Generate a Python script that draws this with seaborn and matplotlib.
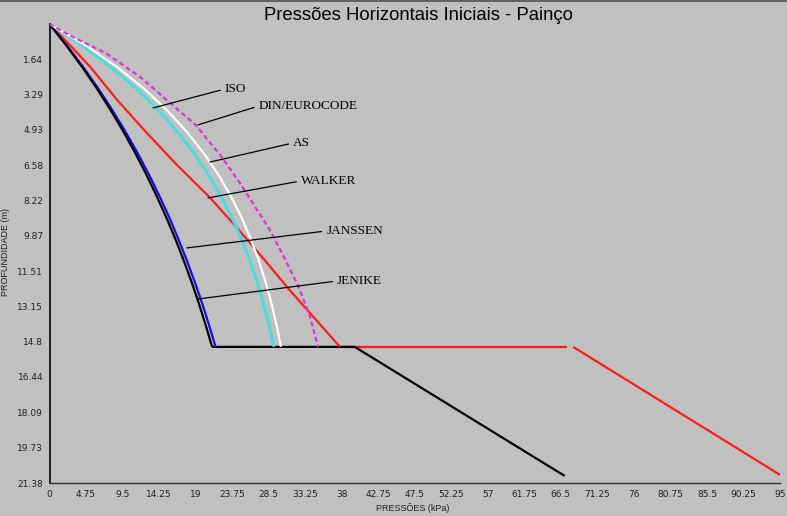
import numpy as np
import pandas as pd
import matplotlib
matplotlib.use("Agg")
import matplotlib.pyplot as plt
from matplotlib.lines import Line2D
import seaborn as sns

# ---------------- data ----------------
title = "Pressões Horizontais Iniciais - Painço"
x_label = "PRESSÕES (kPa)"
y_label = "PROFUNDIDADE (m)"

x_ticks = [0, 4.75, 9.5, 14.25, 19, 23.75, 28.5, 33.25, 38, 42.75, 47.5, 52.25,
           57, 61.75, 66.5, 71.25, 76, 80.75, 85.5, 90.25, 95]
x_tick_labels = ["0", "4.75", "9.5", "14.25", "19", "23.75", "28.5", "33.25", "38",
                 "42.75", "47.5", "52.25", "57", "61.75", "66.5", "71.25", "76",
                 "80.75", "85.5", "90.25", "95"]
y_ticks = [0, 1.64, 3.29, 4.93, 6.58, 8.22, 9.87, 11.51, 13.15, 14.8, 16.44,
           18.09, 19.73, 21.38]
y_tick_labels = ["", "1.64", "3.29", "4.93", "6.58", "8.22", "9.87", "11.51",
                 "13.15", "14.8", "16.44", "18.09", "19.73", "21.38"]

# vertical-wall section: pressure (kPa) vs depth (m)
depth_z = [0, 1, 2, 3, 4, 5, 6, 7, 8, 9, 10, 11, 12, 13, 14, 15.04]
jenike_p = [0, 2.19, 4.24, 6.15, 7.93, 9.59, 11.14, 12.58, 13.92, 15.18, 16.35,
            17.44, 18.46, 19.41, 20.29, 21.15]
janssen_p = [0, 2.26, 4.37, 6.33, 8.15, 9.85, 11.44, 12.91, 14.28, 15.57, 16.74,
             17.85, 18.88, 19.84, 20.73, 21.60]
iso_p = [0, 4.28, 8.01, 11.27, 14.11, 16.59, 18.75, 20.63, 22.27, 23.70, 24.95,
         26.04, 26.99, 27.81, 28.54, 29.19]
as_p = [0, 4.71, 8.77, 12.25, 15.24, 17.81, 20.02, 21.92, 23.55, 24.96, 26.16,
        27.20, 28.09, 28.85, 29.51, 30.10]

walker_z = [0, 1.0, 2.0, 3.54, 5.17, 6.5, 8.10, 9.50, 11.0, 12.3, 15.04]
walker_p = [0, 2.7, 5.3, 8.8, 12.9, 16.4, 20.9, 24.4, 28.0, 31.0, 37.78]

din_z = [0, 0.61, 1.35, 2.47, 3.87, 4.70, 6.19, 7.59, 8.66, 9.50, 10.85, 12.25, 13.65, 15.04]
din_p = [0, 3.06, 7.3, 11.8, 16.3, 19.0, 22.4, 25.1, 27.0, 28.5, 30.5, 32.4, 33.9, 34.92]

# hopper section
jenike_hopper_z = [15.04, 15.04, 21.05]
jenike_hopper_p = [21.15, 39.7, 67.0]
walker_flat_z = [15.04, 15.04]
walker_flat_p = [37.78, 67.3]
walker_hopper_z = [15.04, 21.0]
walker_hopper_p = [68.1, 95.0]

# label texts and their anchor positions (kPa, m)
labels = ["ISO", "DIN/EUROCODE", "AS", "WALKER", "JANSSEN", "JENIKE"]
label_text_xy = [(22.8, 3.03), (27.2, 3.82), (31.7, 5.54), (32.7, 7.31), (36.0, 9.64), (37.4, 11.97)]
label_point_xy = [(13.46, 3.91), (19.31, 4.70), (20.87, 6.43), (20.61, 8.10), (17.88, 10.43), (19.31, 12.81)]

# ---------------- drawing ----------------
sns.set_theme(style="white")
plt.rcParams["font.family"] = ["Liberation Sans", "DejaVu Sans"]

BG = "#C0C0C0"
fig = plt.figure(figsize=(7.87, 5.16), dpi=100, facecolor=BG)
ax = fig.add_axes([49.5 / 787, 1 - 483 / 516, (780 - 49.5) / 787, (483 - 24) / 516])
ax.set_facecolor(BG)


def draw(p, z, color, lw=1.6, dashes=None, zorder=3):
    df = pd.DataFrame({"p": p, "z": z})
    sns.lineplot(data=df, x="p", y="z", sort=False, estimator=None, ax=ax,
                 color=color, linewidth=lw, zorder=zorder)
    line = ax.get_lines()[-1]
    if dashes is not None:
        line.set_dashes(dashes)
    line.set_solid_capstyle("butt")
    return line


draw(walker_flat_p, walker_flat_z, "#FF1A1A", zorder=2)
draw(walker_hopper_p, walker_hopper_z, "#FF1A1A", zorder=2)
draw(jenike_hopper_p, jenike_hopper_z, "#000000", zorder=3)
draw(walker_p, walker_z, "#FF1A1A", zorder=4)
draw(iso_p, depth_z, "#40E0E0", lw=2.0, zorder=4)
draw(as_p, depth_z, "#FFFFFF", zorder=5)
draw(din_p, din_z, "#E030E0", dashes=(2.2, 1.4), zorder=5)
draw(janssen_p, depth_z, "#1010E0", zorder=4)
draw(jenike_p, depth_z, "#000000", zorder=4)

for txt, txy, pxy in zip(labels, label_text_xy, label_point_xy):
    ax.annotate(txt, xy=pxy, xytext=txy, ha="left", va="center",
                fontsize=9.5, family=["Liberation Serif", "DejaVu Serif"], color="black",
                arrowprops=dict(arrowstyle="-", color="black", lw=0.9,
                                relpos=(0, 0.5), shrinkA=1, shrinkB=0),
                zorder=6)

ax.set_xlim(0, 95)
ax.set_ylim(21.38, 0)
ax.set_xticks(x_ticks)
ax.set_xticklabels(x_tick_labels)
ax.set_yticks(y_ticks)
ax.set_yticklabels(y_tick_labels)
ax.tick_params(axis="both", direction="inout", length=6, width=0.9,
               colors="#202020", labelsize=6.5, pad=1.5)
ax.tick_params(axis="x", pad=2)
for lab in ax.get_xticklabels() + ax.get_yticklabels():
    lab.set_family(["DejaVu Sans"])

for s in ["top", "right"]:
    ax.spines[s].set_visible(False)
ax.spines["left"].set_color("#000000")
ax.spines["bottom"].set_color("#303030")
ax.spines["left"].set_linewidth(1.2)
ax.spines["bottom"].set_linewidth(1.0)

ax.set_xlabel(x_label, fontsize=6.5, color="#202020", labelpad=1)
ax.set_ylabel(y_label, fontsize=6.5, color="#202020", labelpad=3)
ax.xaxis.set_label_coords((413 - 49.5) / (780 - 49.5), -(503 - 483) / (483 - 24))
ax.yaxis.set_label_coords(-(49.5 - 10.5) / (780 - 49.5), (483 - 252) / (483 - 24))

fig.text(418 / 787, 1 - 15 / 516, title, ha="center", va="center",
         fontsize=13.3, color="black")

fig.add_artist(Line2D([0, 1], [1 - 1 / 516, 1 - 1 / 516], transform=fig.transFigure,
                      color="#505050", lw=1.2))

fig.savefig("out.png", dpi=100, facecolor=BG)
